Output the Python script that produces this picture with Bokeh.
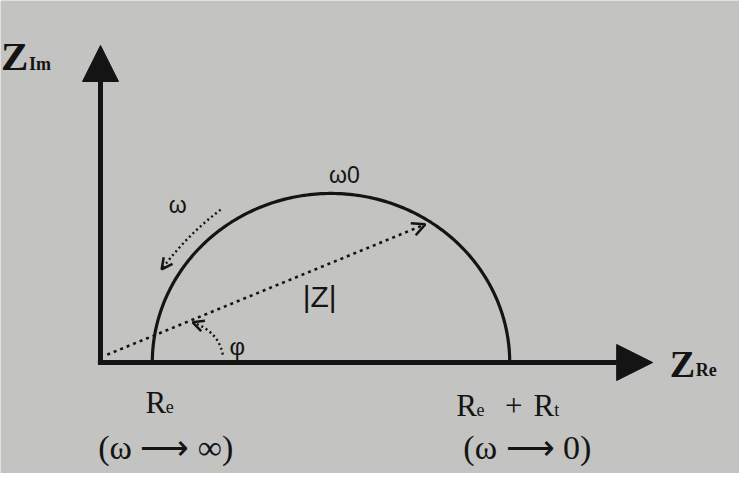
import numpy as np
from bokeh.plotting import figure
from bokeh.models import Arrow, NormalHead, OpenHead, Range1d
from bokeh.core.properties import value
from bokeh.embed import file_html
from bokeh.resources import INLINE

# ---------------- data ----------------
R_E = 10.0          # electrolyte resistance (start of semicircle)
R_T = 69.0          # charge-transfer resistance (diameter of semicircle)
X_AXIS_END = 106.6  # Z_Re axis arrow tip
Y_AXIS_END = 64.7   # Z_Im axis arrow tip
Z_VEC_START = [1.3, 1.6]     # |Z| vector start (near origin)
Z_VEC_END = [62.7, 28.2]     # |Z| vector tip (on the arc)
PHI_ARC = [23.6, 1.6, 22.8, 6.3, 17.8, 8.2]     # x0, y0, cx, cy, x1, y1
OMEGA_ARC = [23.2, 31.2, 16.6, 25.9, 11.8, 19.0]  # x0, y0, cx, cy, x1, y1

# labels
axis_main = ["Z", "Z"]
axis_main_x = [-19.2, 109.9]
axis_main_y = [62.6, -0.4]
axis_main_size = ["41px", "38px"]
axis_sub = ["Im", "Re"]
axis_sub_x = [-13.8, 114.9]
axis_sub_y = [61.0, -1.6]

r_main = ["R", "R", "+", "R"]
r_main_x = [8.7, 68.7, 78.1, 83.6]
r_main_y = [-8.2, -8.8, -8.8, -8.8]
r_sub = ["e", "e", "t"]
r_sub_x = [12.6, 72.6, 87.6]
r_sub_y = [-8.9, -9.6, -9.6]

limit_text = ["(ω ⟶ ∞)", "(ω ⟶ 0)"]
limit_x = [12.6, 82.4]
limit_y = [-17.3, -17.3]

greek_text = ["ω", "ω0", "|Z|", "φ"]
greek_x = [14.9, 47.1, 42.3, 26.4]
greek_y = [32.2, 38.3, 13.5, 3.2]
greek_size = ["23px", "23px", "30px", "24px"]

# ---------------- layout ----------------
W, H = 739, 473
SX, SY = 5.18, 4.9            # px per data unit
X0_PX, Y0_PX = 100, 111       # origin position inside the figure (from left / bottom)
ink = "#141414"
bg = "#c3c3c1"

p = figure(width=W, height=H, output_backend="svg", toolbar_location=None,
           x_range=Range1d(-X0_PX / SX, (W - X0_PX) / SX),
           y_range=Range1d(-Y0_PX / SY, (H - Y0_PX) / SY),
           min_border=0, background_fill_color=bg, border_fill_color=bg,
           outline_line_color=None)
p.xaxis.visible = False
p.yaxis.visible = False
p.grid.visible = False

# axes with arrow heads
for xs, ys, xe, ye in [(-0.5, 0, X_AXIS_END, 0), (0, -0.5, 0, Y_AXIS_END)]:
    p.add_layout(Arrow(end=NormalHead(size=36, fill_color=ink, line_color=ink, line_width=1),
                       x_start=xs, y_start=ys, x_end=xe, y_end=ye,
                       line_width=5, line_color=ink))

# semicircle (Randles RC element)
theta = np.linspace(0, np.pi, 200)
cx, r = R_E + R_T / 2, R_T / 2
p.line(cx + r * np.cos(theta), r * np.sin(theta), line_width=3.2, line_color=ink)

# |Z| vector (dotted)
p.add_layout(Arrow(end=OpenHead(size=13, line_width=2.5, line_color=ink),
                   x_start=Z_VEC_START[0], y_start=Z_VEC_START[1],
                   x_end=Z_VEC_END[0], y_end=Z_VEC_END[1],
                   line_width=2.6, line_color=ink, line_dash="3 4"))

# curved dotted arrows for phi and omega
for arc in (PHI_ARC, OMEGA_ARC):
    x0, y0, qx, qy, x1, y1 = arc
    p.quadratic(x0=[x0], y0=[y0], cx=[qx], cy=[qy], x1=[x1], y1=[y1],
                line_width=2.4, line_color=ink, line_dash="2 3")
    p.add_layout(Arrow(end=OpenHead(size=11, line_width=2.5, line_color=ink),
                       x_start=x1 + 0.3 * (qx - x1), y_start=y1 + 0.3 * (qy - y1),
                       x_end=x1, y_end=y1, line_alpha=0))

serif = value("Liberation Serif")
sans = value("Liberation Sans")

for t, x, y, s in zip(axis_main, axis_main_x, axis_main_y, axis_main_size):
    p.text(x=[x], y=[y], text=[t], text_font=serif, text_font_style="bold",
           text_font_size=s, text_color=ink, text_baseline="alphabetic", text_align="left")
p.text(x=axis_sub_x, y=axis_sub_y, text=axis_sub, text_font=serif, text_font_style="bold",
       text_font_size="18px", text_color=ink, text_baseline="alphabetic", text_align="left")

p.text(x=r_main_x, y=r_main_y, text=r_main, text_font=serif, text_font_size="31px",
       text_color=ink, text_baseline="alphabetic", text_align="left")
p.text(x=r_sub_x, y=r_sub_y, text=r_sub, text_font=serif, text_font_size="18px",
       text_color=ink, text_baseline="alphabetic", text_align="left")

p.text(x=limit_x, y=limit_y, text=limit_text, text_font=serif, text_font_size="34px",
       text_color=ink, text_baseline="alphabetic", text_align="center")

for t, x, y, s in zip(greek_text, greek_x, greek_y, greek_size):
    p.text(x=[x], y=[y], text=[t], text_font=sans, text_font_size=s,
           text_color=ink, text_baseline="alphabetic", text_align="center")

open("out.html", "w").write(file_html(p, INLINE))
